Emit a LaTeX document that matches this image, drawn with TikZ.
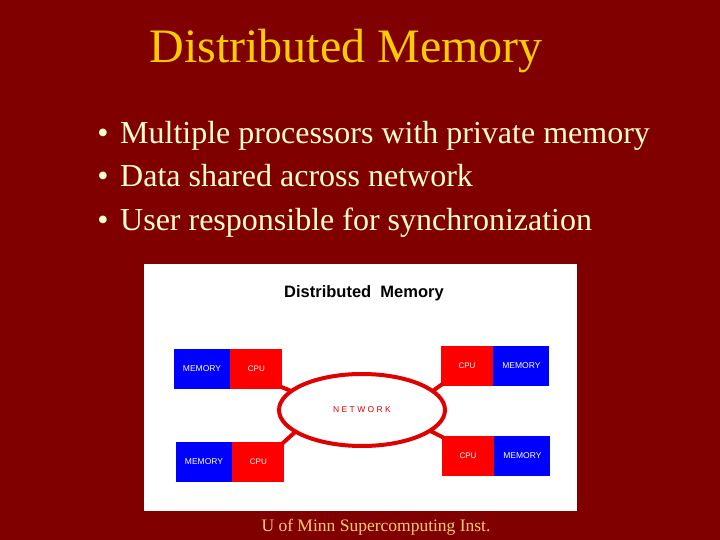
\documentclass[tikz,border=0pt]{standalone}
\usepackage{fontspec}
\setmainfont{Liberation Serif}
\newfontfamily\panelfont{Liberation Sans}
\usetikzlibrary{positioning,shapes.geometric}

\definecolor{slidered}{HTML}{800000}
\definecolor{titlegold}{HTML}{FFCC00}
\definecolor{bulletcream}{HTML}{FFFFCC}
\definecolor{footgold}{HTML}{FFCC66}
\definecolor{boxred}{HTML}{FF0000}
\definecolor{boxblue}{HTML}{0000FF}
\definecolor{netred}{HTML}{E00000}

\tikzset{
    headline/.style={anchor=base, text=titlegold, inner sep=0pt, font=\fontsize{48}{48}\selectfont},
    point/.style={anchor=base west, text=bulletcream, inner sep=0pt, font=\fontsize{32}{32}\selectfont},
    dot/.style={anchor=base, text=bulletcream, inner sep=0pt, font=\fontsize{32}{32}\selectfont},
    membox/.style={fill=boxblue, text=white, minimum width=56pt, minimum height=40pt, inner sep=0pt, font=\panelfont\fontsize{8.5}{8.5}\selectfont},
    cpubox/.style={fill=boxred, text=white, minimum width=52pt, minimum height=40pt, inner sep=0pt, font=\panelfont\fontsize{8}{8}\selectfont},
    link/.style={netred, line width=4pt},
}

\begin{document}
\begin{tikzpicture}[x=1pt, y=-1pt]
        \fill[slidered] (0,0) rectangle (720,540);
        \useasboundingbox (0,0) rectangle (720,540);

        \node[headline] (title) at (346,63) {Distributed Memory};

        \node[dot]   (dot1) at (103,144) {•};
        \node[point] (pt1)  at (120,144) {Multiple processors with private memory};
        \node[dot]   (dot2) at (103,187) {•};
        \node[point] (pt2)  at (120,187) {Data shared across network};
        \node[dot]   (dot3) at (103,230) {•};
        \node[point] (pt3)  at (120,230) {User responsible for synchronization};

        \fill[white] (144,264) rectangle (577,511);
        \node[anchor=base, inner sep=0pt, font=\panelfont\bfseries\fontsize{16.5}{16.5}\selectfont]
            (figtitle) at (364,297) {Distributed\ \ Memory};

        \node[membox]                         (memA) at (202,368.5) {MEMORY};
        \node[cpubox, right=0pt of memA]      (cpuA) {CPU};
        \node[membox]                         (memB) at (204,461.5) {MEMORY};
        \node[cpubox, right=0pt of memB]      (cpuB) {CPU};
        \node[cpubox]                         (cpuC) at (467,365.5) {CPU};
        \node[membox, right=0pt of cpuC]      (memC) {MEMORY};
        \node[cpubox]                         (cpuD) at (468,456) {CPU};
        \node[membox, right=0pt of cpuD]      (memD) {MEMORY};

        \node[ellipse, draw=netred, line width=4pt, outer sep=0pt, minimum width=166pt, minimum height=72pt,
              inner sep=0pt, text=netred, font=\panelfont\fontsize{8.5}{8.5}\selectfont]
            (net) at (362,410) {N E T W O R K};

        \draw[link] ([shift={(-2pt,2pt)}]cpuA.south east) -- (net.165);
        \draw[link] ([shift={(-2pt,-2pt)}]cpuB.north east) -- (net.198);
        \draw[link] ([shift={(2pt,2pt)}]cpuC.south west) -- (net.15);
        \draw[link] ([shift={(2pt,-2pt)}]cpuD.north west) -- (net.343);

        \node[anchor=base, text=footgold, inner sep=0pt, font=\fontsize{17.5}{17.5}\selectfont]
            (foot) at (376,531) {U of Minn Supercomputing Inst.};
\end{tikzpicture}
\end{document}
